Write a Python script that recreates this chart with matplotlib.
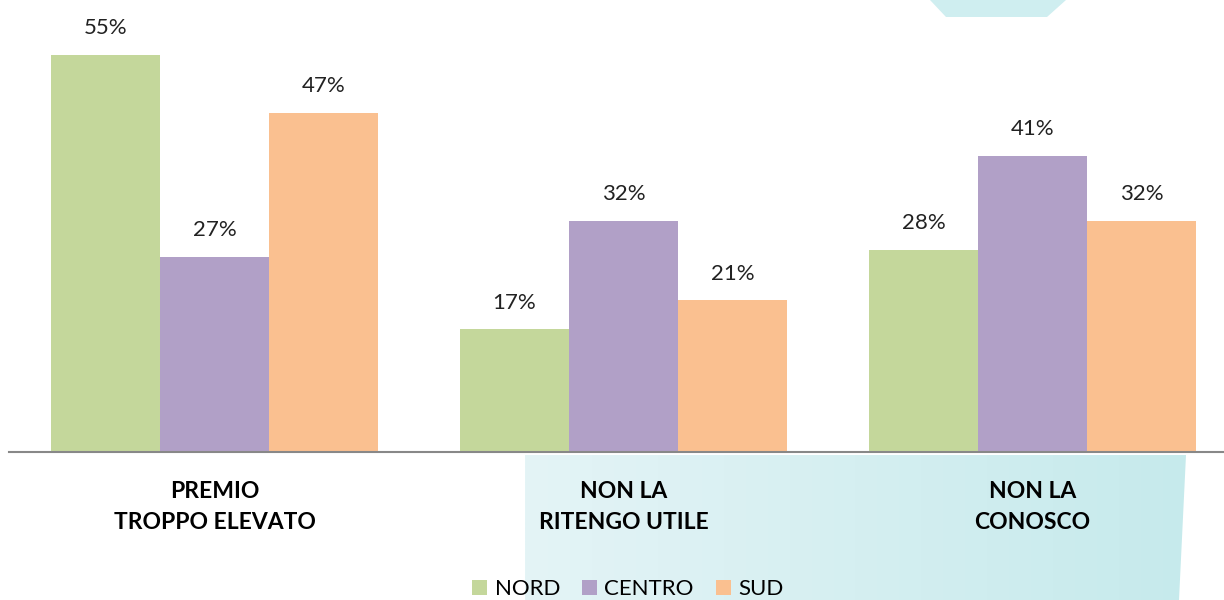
import matplotlib
matplotlib.use("Agg")
import matplotlib.pyplot as plt
import numpy as np
from matplotlib.patches import Polygon, Patch
from matplotlib.colors import LinearSegmentedColormap

categories = ["PREMIO\nTROPPO ELEVATO", "NON LA\nRITENGO UTILE", "NON LA\nCONOSCO"]
series_names = ["NORD", "CENTRO", "SUD"]
nord = [55, 17, 28]
centro = [27, 32, 41]
sud = [47, 21, 32]
colors = ["#c4d79b", "#b1a0c7", "#fac090"]

W, H = 1224, 600
fig = plt.figure(figsize=(W / 100, H / 100), dpi=100)

# decorative background
bg = fig.add_axes([0, 0, 1, 1], zorder=0)
bg.set_xlim(0, W)
bg.set_ylim(H, 0)
bg.axis("off")
cmap = LinearSegmentedColormap.from_list("bgc", ["#e4f4f6", "#c6eaec"])
grad = np.linspace(0, 1, 256).reshape(1, -1)
poly1 = Polygon([(525, 455), (1186, 455), (1179, 600), (525, 600)], closed=True,
                facecolor="none", edgecolor="none")
bg.add_patch(poly1)
im = bg.imshow(grad, cmap=cmap, extent=(525, 1186, 600, 455), aspect="auto")
im.set_clip_path(poly1)
poly2 = Polygon([(930, 0), (1066, 0), (1047, 17), (946, 17)], closed=True,
                facecolor="#cfeef0", edgecolor="none")
bg.add_patch(poly2)

# main chart
ax_left = 9 / W
ax_bottom = (H - 452) / H
ax = fig.add_axes([ax_left, ax_bottom, 1 - ax_left, 1 - ax_bottom], zorder=1)
ax.patch.set_alpha(0)
x = np.arange(len(categories))
bw = 109 / 409
data = [nord, centro, sud]
for i, (vals, c) in enumerate(zip(data, colors)):
    pos = x + (i - 1) * bw
    ax.bar(pos, vals, width=bw, color=c, edgecolor="none", label=series_names[i])
    for p, v in zip(pos, vals):
        ax.annotate(f"{v}%", (p, v), xytext=(0, 12), textcoords="offset points",
                    ha="center", va="bottom", fontsize=16, color="#222222",
                    family="Lato")

ax.set_xlim((9 - 214.5) / 409, (1224 - 214.5) / 409)
ax.set_ylim(0, 452 / (397 / 55))
ax.set_yticks([])
ax.set_xticks(x)
ax.set_xticklabels(categories, fontsize=16.5, fontweight="bold", family="Lato",
                   linespacing=1.55)
ax.tick_params(axis="x", length=0, pad=21)
for s in ["top", "right", "left"]:
    ax.spines[s].set_visible(False)
ax.spines["bottom"].set_color("#888888")
ax.spines["bottom"].set_linewidth(1.5)

handles = [Patch(facecolor=c, edgecolor="none") for c in colors]
fig.legend(handles, series_names, loc="center", bbox_to_anchor=(628 / W, 1 - 589 / H),
           ncol=3, frameon=False, handlelength=0.65, handleheight=0.65,
           handletextpad=0.35, columnspacing=1.0, prop={"family": "Lato", "size": 16})

fig.savefig("out.png", dpi=100)
